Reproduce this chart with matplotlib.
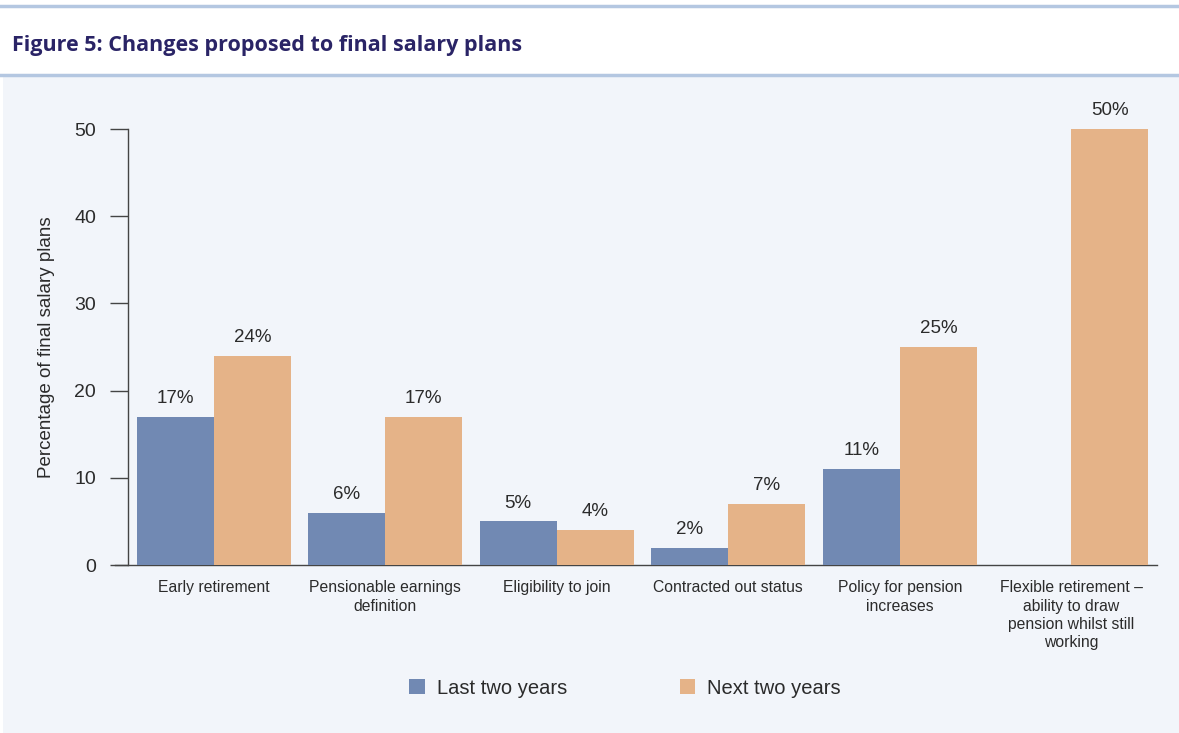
import numpy as np
import matplotlib.pyplot as plt
from matplotlib.patches import Rectangle
from matplotlib.lines import Line2D

# Data
categories = ["Early retirement", "Pensionable earnings\ndefinition", "Eligibility to join",
              "Contracted out status", "Policy for pension\nincreases",
              "Flexible retirement \u2013\nability to draw\npension whilst still\nworking"]
last_two = [17, 6, 5, 2, 11, 0]
next_two = [24, 17, 4, 7, 25, 50]
series_names = ["Last two years", "Next two years"]

blue = "#7189b3"
orange = "#e5b388"
panel = "#f2f5fa"
rule = "#b4c7e1"
text_col = "#2b2b2b"

plt.rcParams['font.family'] = ['Liberation Sans', 'DejaVu Sans']

fig = plt.figure(figsize=(11.79, 7.33), dpi=100)

# Background panel and the two rules
fig.patches.append(Rectangle((3 / 1179, 0), 1, 656 / 733, transform=fig.transFigure,
                             facecolor=panel, edgecolor="none", zorder=-5))
fig.add_artist(Line2D([0, 1], [1 - 6 / 733] * 2, color=rule, lw=2.5))
fig.add_artist(Line2D([0, 1], [1 - 75 / 733] * 2, color=rule, lw=2.5))
fig.text(12 / 1179, 1 - 46 / 733, "Figure 5: Changes proposed to final salary plans",
         family=["Open Sans", "DejaVu Sans"], fontweight="bold", fontsize=15.5,
         color="#2a2466", va="center", ha="left")

ax = fig.add_axes([128 / 1179, 168 / 733, 1029 / 1179, 436 / 733])
ax.set_facecolor("none")

x = np.arange(len(categories))
w = 0.45
ax.bar(x - w / 2, last_two, w, color=blue, label=series_names[0])
ax.bar(x + w / 2, next_two, w, color=orange, label=series_names[1])

for xi, v in zip(x, last_two):
    if v > 0:
        ax.annotate(f"{v}%", (xi - w / 2, v), xytext=(0, 7), textcoords="offset points",
                    ha="center", va="bottom", fontsize=13.5, color=text_col)
for xi, v in zip(x, next_two):
    ax.annotate(f"{v}%", (xi + w / 2, v), xytext=(0, 7), textcoords="offset points",
                ha="center", va="bottom", fontsize=13.5, color=text_col)

ax.set_xlim(-0.5, len(categories) - 0.5)
ax.set_ylim(0, 50)
ax.set_yticks([0, 10, 20, 30, 40, 50])
ax.tick_params(axis="y", length=13, width=1, color="#444444", labelsize=14,
               labelcolor=text_col, pad=10)
ax.set_xticks(x)
ax.set_xticklabels(categories, fontsize=11.3, color=text_col, linespacing=1.27)
ax.tick_params(axis="x", length=0, pad=11)
for s in ["top", "right", "bottom"]:
    ax.spines[s].set_visible(False)
ax.spines["left"].set_color("#444444")
ax.spines["left"].set_linewidth(1)
# baseline reaches out to the tick ends
ax.plot([-0.5 - 13 / 171.5, len(categories) - 0.5], [0, 0], color="#444444", lw=1,
        clip_on=False, zorder=0)

ax.set_ylabel("Percentage of final salary plans", fontsize=13.5, color=text_col, labelpad=14)

fig.legend(loc="center", bbox_to_anchor=(625 / 1179, 1 - 688 / 733), ncol=2,
           frameon=False, fontsize=14.5, handlelength=0.75, handleheight=0.75,
           handletextpad=0.6, columnspacing=5.6, labelcolor=text_col)

fig.savefig("out.png", dpi=100)
